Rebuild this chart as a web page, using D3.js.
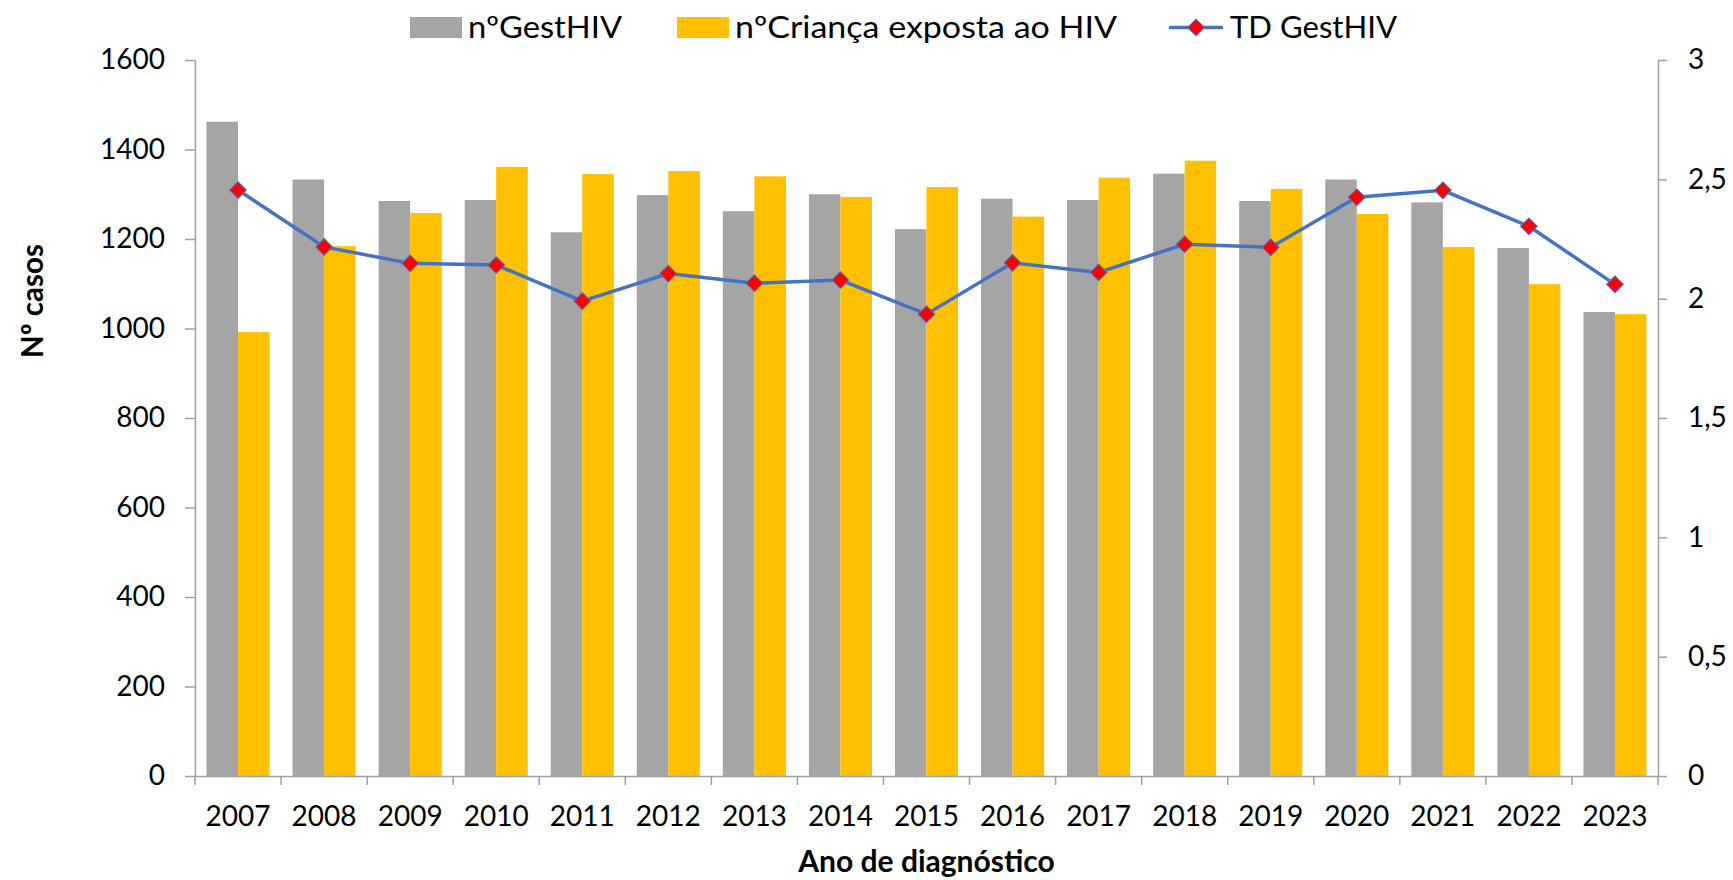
<!DOCTYPE html>
<html>
<head>
<meta charset="utf-8">
<script src="https://cdn.jsdelivr.net/npm/d3@7"></script>
<style>
  body { margin: 0; background: #fff; }
  svg text { font-family: Lato, "Open Sans", sans-serif; fill: #000; }
</style>
</head>
<body>
<svg id="chart" width="1733" height="880"></svg>
<script>
// chart data
var years = ['2007', '2008', '2009', '2010', '2011', '2012', '2013', '2014', '2015',
  '2016', '2017', '2018', '2019', '2020', '2021', '2022', '2023'];
var gestHIV = [1462, 1333, 1285, 1287, 1215, 1298, 1262, 1300, 1222, 1290, 1287, 1346, 1285, 1333, 1282, 1180, 1037];
var criancaExposta = [992, 1184, 1258, 1361, 1345, 1352, 1340, 1294, 1316, 1250, 1337, 1375, 1312, 1256, 1182, 1099, 1032];
var tdGestHIV = [2.455, 2.217, 2.148, 2.141, 1.99, 2.105, 2.065, 2.078, 1.935, 2.15, 2.11, 2.228, 2.215, 2.425, 2.454, 2.303, 2.06];
var leftTicks = [0, 200, 400, 600, 800, 1000, 1200, 1400, 1600];
var rightTicks = [0, 0.5, 1, 1.5, 2, 2.5, 3];
var seriesNames = ['nºGestHIV', 'nºCriança exposta ao HIV', 'TD GestHIV'];

var grey = '#a5a5a5';
var gold = '#ffc000';
var blue = '#4472c4';
var axisColor = '#a0a0a0';

var svg = d3.select('#chart');

var plotLeft = 195, plotRight = 1658, plotTop = 60, plotBottom = 776;

var x = d3.scaleBand()
  .domain(years)
  .range([plotLeft, plotRight]);

var xInner = d3.scaleBand()
  .domain(['g', 'c'])
  .range([0, x.bandwidth()])
  .paddingOuter(0.365);

var y = d3.scaleLinear().domain([0, 1600]).range([plotBottom, plotTop]);
var y2 = d3.scaleLinear().domain([0, 3]).range([plotBottom, plotTop]);

var ptBR = d3.formatLocale({ decimal: ',', thousands: '.', grouping: [3], currency: ['R$', ''] });

// bars
var groups = svg.append('g').selectAll('g')
  .data(years)
  .enter()
  .append('g')
  .attr('transform', function(d) { return 'translate(' + x(d) + ',0)'; });

groups.append('rect')
  .attr('x', xInner('g'))
  .attr('width', xInner.bandwidth())
  .attr('y', function(d, i) { return y(gestHIV[i]); })
  .attr('height', function(d, i) { return plotBottom - y(gestHIV[i]); })
  .attr('fill', grey);

groups.append('rect')
  .attr('x', xInner('c'))
  .attr('width', xInner.bandwidth())
  .attr('y', function(d, i) { return y(criancaExposta[i]); })
  .attr('height', function(d, i) { return plotBottom - y(criancaExposta[i]); })
  .attr('fill', gold);

// left axis
var leftAxis = svg.append('g')
  .attr('transform', 'translate(' + plotLeft + ',0)')
  .call(d3.axisLeft(y).tickValues(leftTicks).tickSize(10).tickPadding(20).tickSizeOuter(0)
    .tickFormat(d3.format('d')));

// right axis
var rightAxis = svg.append('g')
  .attr('transform', 'translate(' + plotRight + ',0)')
  .call(d3.axisRight(y2).tickValues(rightTicks).tickSize(9).tickPadding(21).tickSizeOuter(0)
    .tickFormat(ptBR.format('~g')));

// bottom axis: labels centered, ticks on category boundaries
var bottomAxis = svg.append('g')
  .attr('transform', 'translate(0,' + plotBottom + ')')
  .call(d3.axisBottom(x).tickSize(0).tickPadding(30).tickSizeOuter(0));

bottomAxis.selectAll('.boundary')
  .data(years.map(function(d) { return x(d); }).concat([plotRight]))
  .enter()
  .append('line')
  .attr('class', 'boundary')
  .attr('x1', function(d) { return d; })
  .attr('x2', function(d) { return d; })
  .attr('y1', 0)
  .attr('y2', 9);

[leftAxis, rightAxis, bottomAxis].forEach(function(a) {
  a.select('.domain').attr('stroke', axisColor).attr('stroke-width', 1.5);
  a.selectAll('line').attr('stroke', axisColor).attr('stroke-width', 1.5);
  a.selectAll('text').attr('font-size', 28).attr('font-family', 'Lato, sans-serif').attr('fill', '#000');
});

// line series
var line = d3.line()
  .x(function(d, i) { return x(years[i]) + x.bandwidth() / 2; })
  .y(function(d) { return y2(d); });

svg.append('path')
  .datum(tdGestHIV)
  .attr('d', line)
  .attr('fill', 'none')
  .attr('stroke', blue)
  .attr('stroke-width', 3.5);

var diamond = d3.symbol().type(d3.symbolSquare).size(140);

svg.append('g').selectAll('path')
  .data(tdGestHIV)
  .enter()
  .append('path')
  .attr('d', diamond)
  .attr('transform', function(d, i) {
    return 'translate(' + (x(years[i]) + x.bandwidth() / 2) + ',' + y2(d) + ') rotate(45)';
  })
  .attr('fill', '#ff0000')
  .attr('stroke', blue)
  .attr('stroke-width', 1);

// axis titles
svg.append('text')
  .attr('transform', 'translate(43,301) rotate(-90)')
  .attr('text-anchor', 'middle')
  .attr('font-size', 29.5)
  .attr('font-weight', 'bold')
  .text('Nº casos');

svg.append('text')
  .attr('x', (plotLeft + plotRight) / 2)
  .attr('y', 872)
  .attr('text-anchor', 'middle')
  .attr('font-size', 30)
  .attr('font-weight', 'bold')
  .text('Ano de diagnóstico');

// legend
var legend = svg.append('g');
legend.append('rect').attr('x', 410).attr('y', 17).attr('width', 52).attr('height', 21).attr('fill', grey);
legend.append('text').attr('x', 468).attr('y', 38).attr('font-size', 31)
  .attr('textLength', 154).attr('lengthAdjust', 'spacingAndGlyphs').text(seriesNames[0]);
legend.append('rect').attr('x', 677).attr('y', 17).attr('width', 52).attr('height', 21).attr('fill', gold);
legend.append('text').attr('x', 735).attr('y', 38).attr('font-size', 31)
  .attr('textLength', 382).attr('lengthAdjust', 'spacingAndGlyphs').text(seriesNames[1]);
legend.append('line').attr('x1', 1169).attr('x2', 1223).attr('y1', 27.5).attr('y2', 27.5)
  .attr('stroke', blue).attr('stroke-width', 3.5);
legend.append('path').attr('d', diamond)
  .attr('transform', 'translate(1196,27.5) rotate(45)')
  .attr('fill', '#ff0000').attr('stroke', blue).attr('stroke-width', 1);
legend.append('text').attr('x', 1230).attr('y', 38).attr('font-size', 31)
  .attr('textLength', 167).attr('lengthAdjust', 'spacingAndGlyphs').text(seriesNames[2]);
</script>
</body>
</html>
